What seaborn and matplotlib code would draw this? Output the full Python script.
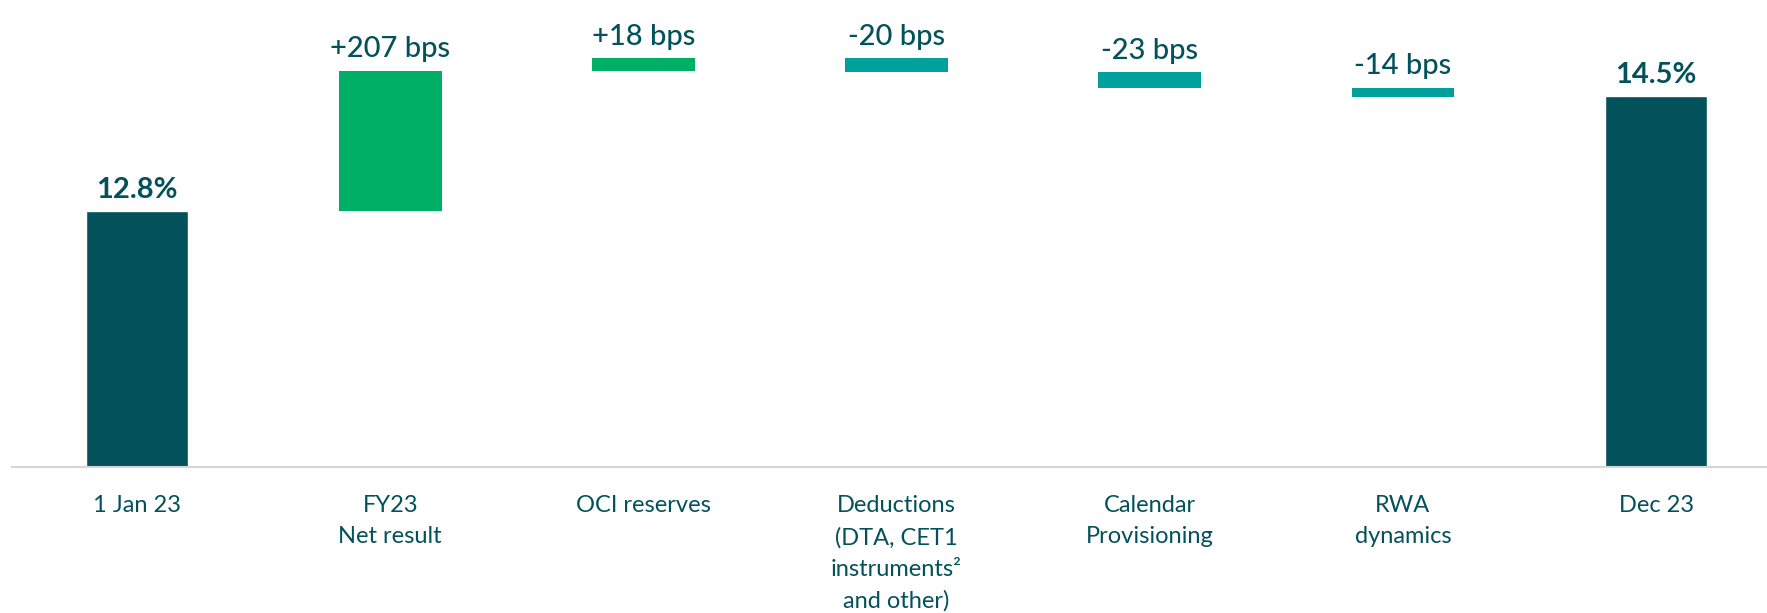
import pandas as pd
import matplotlib
matplotlib.use('Agg')
import matplotlib.pyplot as plt
import seaborn as sns

# Chart data (CET1 ratio walk)
categories = ['1 Jan 23', 'FY23\nNet result', 'OCI reserves',
              'Deductions\n(DTA, CET1\ninstruments²\nand other)',
              'Calendar\nProvisioning', 'RWA\ndynamics', 'Dec 23']
start_ratio = 12.8
end_ratio = 14.5
deltas_bps = [207, 18, -20, -23, -14]
delta_labels = ['+207 bps', '+18 bps', '-20 bps', '-23 bps', '-14 bps']
total_labels = ['12.8%', '14.5%']

DARK = '#03515A'
GREEN = '#00AF66'
TEAL = '#00A19A'

sns.set_style('white')
plt.rcParams['font.family'] = ['Lato', 'DejaVu Sans']

fig = plt.figure(figsize=(17.67, 6.13), dpi=100)
ax = fig.add_axes([12 / 1767, 1 - 467 / 613, 1755 / 1767, 467 / 613])

# Totals drawn with seaborn
df_tot = pd.DataFrame({'cat': [categories[0], categories[-1]],
                       'value': [start_ratio, end_ratio]})
sns.barplot(data=df_tot, x='cat', y='value', order=categories,
            color=DARK, width=0.405, saturation=1, ax=ax)

# Floating bars for the deltas
running = start_ratio
tops = []
for i, d in enumerate(deltas_bps):
    new = running + d / 100
    bottom = min(running, new)
    color = GREEN if d > 0 else TEAL
    ax.bar(i + 1, abs(d) / 100, bottom=bottom, width=0.405, color=color, linewidth=0)
    tops.append(max(running, new))
    running = new

# Labels
for i, lab in enumerate(delta_labels):
    ax.annotate(lab, (i + 1, tops[i]), xytext=(0, 6), textcoords='offset points',
                ha='center', va='bottom', fontsize=21, color=DARK, fontweight='medium')
for x, y, lab in [(0, start_ratio, total_labels[0]), (6, end_ratio, total_labels[1])]:
    ax.annotate(lab, (x, y), xytext=(0, 6), textcoords='offset points',
                ha='center', va='bottom', fontsize=21, color=DARK, fontweight='bold')

ax.set_xlim(-0.494, 6.438)
ax.set_ylim(9.04, 15.91)
ax.set_xlabel('')
ax.set_ylabel('')
ax.set_yticks([])
ax.tick_params(axis='x', length=0, pad=20, labelsize=17, labelcolor=DARK)
for t in ax.get_xticklabels():
    t.set_linespacing(1.62)
for s in ['top', 'left', 'right']:
    ax.spines[s].set_visible(False)
ax.spines['bottom'].set_color('#D6D6D6')
ax.spines['bottom'].set_linewidth(1.5)

fig.savefig('out.png', dpi=100)
